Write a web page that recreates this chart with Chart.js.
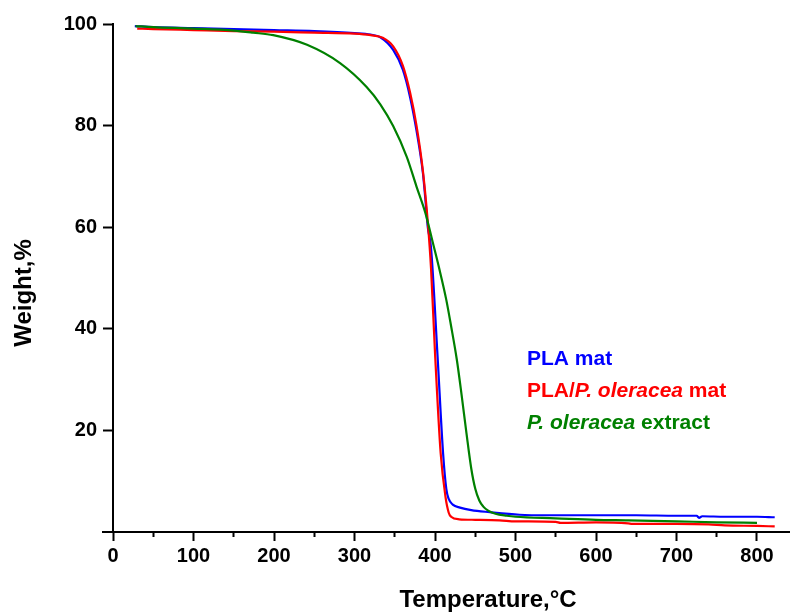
<!DOCTYPE html>
<html>
<head>
<meta charset="utf-8">
<script src="https://cdn.jsdelivr.net/npm/chart.js@4/dist/chart.umd.min.js"></script>
<style>
html,body{margin:0;padding:0;background:#fff;}
#wrap{width:790px;height:615px;}
</style>
</head>
<body>
<div id="wrap"><canvas id="c" width="790" height="615"></canvas></div>
<script>
// ---- data ----
const seriesNames = ["PLA mat", "PLA/P. oleracea mat", "P. oleracea extract"];
const seriesColors = ["rgb(0,0,255)", "rgb(255,0,0)", "rgb(0,128,0)"];

const plaTemp = [27, 50, 100, 150, 200, 250, 300, 320, 332, 348, 360, 369, 377, 385, 388, 391, 395, 403, 410, 414, 417, 422, 431, 445, 468, 505, 540, 600, 650, 700, 725, 728, 732, 760, 800, 822];
const plaWeight = [99.6, 99.4, 99.2, 99.0, 98.8, 98.6, 98.2, 97.9, 97.4, 94.9, 91.0, 85.6, 79.0, 70.6, 65.5, 60.0, 56.0, 35.0, 15.5, 8.5, 6.5, 5.4, 4.8, 4.3, 3.9, 3.4, 3.3, 3.3, 3.3, 3.2, 3.2, 2.8, 3.1, 3.0, 3.0, 2.9];

const plaPoTemp = [30, 50, 100, 150, 200, 250, 300, 320, 335, 348, 360, 369, 377, 385, 391, 395, 400, 407, 413, 417, 420, 430, 450, 480, 500, 550, 556, 600, 640, 645, 700, 740, 760, 800, 822];
const plaPoWeight = [99.1, 99.0, 98.8, 98.6, 98.5, 98.3, 98.1, 97.8, 97.3, 95.6, 91.8, 86.5, 80.0, 71.0, 61.0, 52.0, 35.2, 15.5, 6.9, 3.8, 3.0, 2.5, 2.4, 2.3, 2.1, 2.0, 1.8, 1.9, 1.7, 1.6, 1.6, 1.5, 1.3, 1.2, 1.1];

const extractTemp = [28, 50, 100, 150, 174, 199, 241, 282, 315, 332, 348, 365, 377, 388, 398, 405, 414, 420, 427, 433, 439, 445, 450, 455, 460, 466, 475, 489, 500, 550, 600, 640, 700, 750, 800];
const extractWeight = [99.6, 99.4, 99.1, 98.7, 98.3, 97.8, 95.9, 92.3, 87.6, 84.2, 79.9, 73.8, 68.0, 62.8, 56.5, 52.0, 45.7, 40.5, 34.0, 27.0, 19.5, 12.5, 8.5, 6.2, 5.0, 4.2, 3.6, 3.2, 3.0, 2.7, 2.4, 2.3, 2.1, 1.9, 1.8];

const xTickLabels = [0, 100, 200, 300, 400, 500, 600, 700, 800];
const yTickLabels = [20, 40, 60, 80, 100];
const xTitle = "Temperature,\u00B0C";
const yTitle = "Weight,%";
// legend text pieces: [text, italic]
const legendPieces = [
  [["PLA mat", false]],
  [["PLA/", false], ["P. oleracea", true], [" mat", false]],
  [["P. oleracea", true], [" extract", false]]
];

const FONT = '"Liberation Sans", Arial, sans-serif';

function pts(xs, ys) { return xs.map((x, i) => ({x: x, y: ys[i]})); }

const textPlugin = {
  id: 'texts',
  afterDraw(chart) {
    const ctx = chart.ctx;
    ctx.save();
    ctx.fillStyle = '#000';
    ctx.font = 'bold 24px ' + FONT;
    ctx.textAlign = 'center';
    ctx.textBaseline = 'middle';
    ctx.fillText(xTitle, 488, 600);
    ctx.translate(24, 293);
    ctx.rotate(-Math.PI / 2);
    ctx.fillText(yTitle, 0, 0);
    ctx.restore();

    ctx.save();
    ctx.textAlign = 'left';
    ctx.textBaseline = 'alphabetic';
    const baselines = [365, 397, 429];
    legendPieces.forEach((pieces, i) => {
      let x = 527;
      ctx.fillStyle = seriesColors[i];
      pieces.forEach(([t, it]) => {
        ctx.font = (it ? 'italic ' : '') + 'bold 21px ' + FONT;
        ctx.fillText(t, x, baselines[i]);
        x += ctx.measureText(t).width;
      });
    });
    ctx.restore();
  }
};

const ds = (label, xs, ys, color) => ({
  label: label,
  data: pts(xs, ys),
  borderColor: color,
  backgroundColor: color,
  borderWidth: 2.2,
  pointRadius: 0,
  showLine: true,
  fill: false,
  cubicInterpolationMode: 'monotone'
});

const X_MIN = -12.5, X_MAX = 841;

new Chart(document.getElementById('c'), {
  type: 'scatter',
  data: {
    datasets: [
      ds(seriesNames[2], extractTemp, extractWeight, seriesColors[2]),
      ds(seriesNames[1], plaPoTemp, plaPoWeight, seriesColors[1]),
      ds(seriesNames[0], plaTemp, plaWeight, seriesColors[0])
    ]
  },
  options: {
    responsive: false,
    animation: false,
    layout: { padding: { left: 0, right: 0, top: 24, bottom: 44 } },
    plugins: { legend: { display: false }, tooltip: { enabled: false } },
    scales: {
      x: {
        type: 'linear',
        position: 'bottom',
        min: X_MIN,
        max: X_MAX,
        afterBuildTicks: (s) => { s.ticks = xTickLabels.map(v => ({value: v})); },
        ticks: {
          color: '#000',
          font: { family: FONT, size: 20, weight: 'bold' },
          padding: 3,
          maxRotation: 0,
          autoSkip: false
        },
        grid: { drawOnChartArea: false, drawTicks: true, tickLength: 9, tickColor: '#000', tickWidth: 2 },
        border: { display: true, color: '#000', width: 2 }
      },
      xMinor: {
        type: 'linear',
        position: { y: 0 },
        min: X_MIN,
        max: X_MAX,
        afterBuildTicks: (s) => { s.ticks = xTickLabels.slice(0, -1).map(v => ({value: v + 50})); },
        ticks: { display: false },
        grid: { drawOnChartArea: false, drawTicks: true, tickLength: 5, tickColor: '#000', tickWidth: 2 },
        border: { display: false }
      },
      y: {
        type: 'linear',
        position: 'left',
        min: 0,
        max: 100,
        afterBuildTicks: (s) => { s.ticks = yTickLabels.map(v => ({value: v})); },
        afterFit: (s) => { s.width = 103; },
        ticks: {
          color: '#000',
          font: { family: FONT, size: 20, weight: 'bold' },
          padding: 6
        },
        grid: { display: false, drawOnChartArea: false, drawTicks: false },
        border: { display: false }
      },
      yLine: {
        type: 'linear',
        position: { x: 0 },
        min: 0,
        max: 100,
        afterBuildTicks: (s) => { s.ticks = yTickLabels.map(v => ({value: v})); },
        ticks: { display: false },
        grid: { drawOnChartArea: false, drawTicks: true, tickLength: 9, tickColor: '#000', tickWidth: 2 },
        border: { display: true, color: '#000', width: 2 }
      }
    }
  },
  plugins: [textPlugin]
});
</script>
</body>
</html>
